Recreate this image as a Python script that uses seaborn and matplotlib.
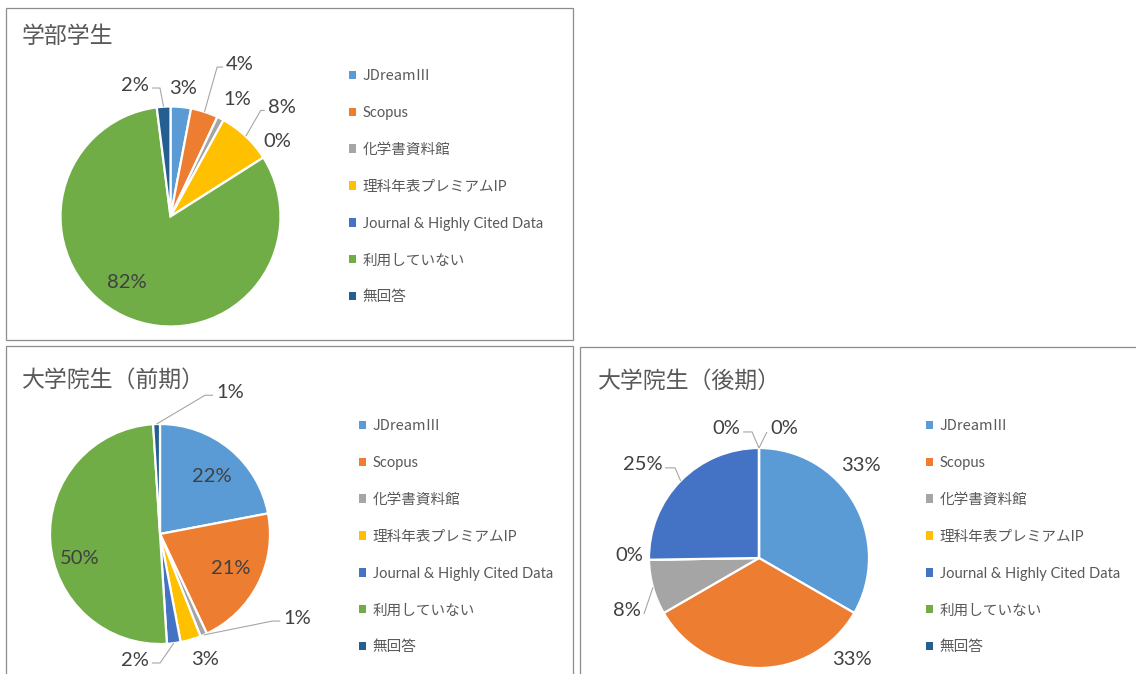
import numpy as np
import pandas as pd
import matplotlib
matplotlib.use("Agg")
import matplotlib.pyplot as plt
import seaborn as sns
from matplotlib.patches import Patch, Rectangle

# ---------------- data ----------------
categories = ["JDreamⅢ", "Scopus", "化学書資料館", "理科年表プレミアムIP",
              "Journal & Highly Cited Data", "利用していない", "無回答"]
undergrad = [3, 4, 1, 8, 0, 82, 2]
master = [22, 21, 1, 3, 2, 50, 1]
doctor = [33, 33, 8, 0, 25, 0, 0]
titles = ["学部学生", "大学院生（前期）", "大学院生（後期）"]

# ---------------- style ----------------
sns.set_theme(style="white")
plt.rcParams["font.family"] = ["Lato", "Noto Sans CJK JP", "DejaVu Sans"]
palette = sns.color_palette(["#5B9BD5", "#ED7D31", "#A5A5A5", "#FFC000",
                             "#4472C4", "#70AD47", "#255E91"])

W, H = 1136, 674
R_PX = 110.0
PX = 1.0 / R_PX  # one pixel in pie data units

# label placement per wedge: (radius factor, angle shift deg clockwise, mode, elbow px)
style_1 = [(1.17, 0.0, "c", 0), (1.44, 1.4, "R", 6), (1.22, 2.7, "c", 0),
           (1.29, -1.6, "R", 4), (1.19, -2.7, "c", 0), (0.72, 8.0, "c", 0),
           (1.18, -4.6, "L", 8)]
style_2 = [(0.70, 2.2, "c", 0), (0.72, -1.0, "c", 0), (1.35, -30.7, "R", 8),
           (1.21, -3.8, "c", 0), (1.175, 10.7, "L", 8), (0.76, -13.2, "c", 0),
           (1.35, 22.7, "R", 8)]
style_3 = [(1.25, -12.4, "c", 0), (1.25, -42.4, "c", 0), (1.163, -10.5, "L", 0),
           (1.18, 1.8, "c", 0), (1.183, -0.7, "L", 10), (1.155, -7.2, "L", 9),
           (1.148, 3.6, "R", 0)]

panels = [
    dict(values=undergrad, title=titles[0], center=(170.5, 216.5), style=style_1,
         title_xy=(22, 36), legend_xy=(349, 69), box=(6, 8, 573, 340)),
    dict(values=master, title=titles[1], center=(160, 534), style=style_2,
         title_xy=(22, 380), legend_xy=(359, 419), box=(6, 346, 573, 690)),
    dict(values=doctor, title=titles[2], center=(759, 558), style=style_3,
         title_xy=(598, 381), legend_xy=(926, 419), box=(580, 347, 1150, 690)),
]

fig = plt.figure(figsize=(W / 100, H / 100), dpi=100)
fig.patch.set_facecolor("white")

label_color = "#404040"
leader_color = "#A6A6A6"

for p in panels:
    # panel frame
    x0, y0, x1, y1 = p["box"]
    fig.patches.append(Rectangle((x0 / W, 1 - y1 / H), (x1 - x0) / W, (y1 - y0) / H,
                                 transform=fig.transFigure, fill=False,
                                 edgecolor="#8C8C8C", linewidth=0.9, zorder=0))
    # title
    fig.text(p["title_xy"][0] / W, 1 - p["title_xy"][1] / H, p["title"],
             fontsize=16.5, color="#595959", ha="left", va="center")

    cx, cy = p["center"]
    ax = fig.add_axes([(cx - R_PX) / W, 1 - (cy + R_PX) / H, 2 * R_PX / W, 2 * R_PX / H])
    vals = p["values"]
    wedges, _ = ax.pie(vals, colors=palette, startangle=90, counterclock=False,
                       wedgeprops=dict(edgecolor="white", linewidth=1.6))
    ax.set_xlim(-1, 1)
    ax.set_ylim(-1, 1)
    ax.set_aspect("equal")
    ax.axis("off")

    for w, v, (k, dphi, mode, elbow) in zip(wedges, vals, p["style"]):
        mid = 0.5 * (w.theta1 + w.theta2)          # math degrees
        lab = np.deg2rad(mid - dphi)
        px_, py_ = k * np.cos(lab), k * np.sin(lab)
        txt = f"{v}%"
        if mode == "c":
            ax.text(px_, py_, txt, ha="center", va="center", fontsize=14.5,
                    color=label_color)
        else:
            side = 1 if mode == "R" else -1
            ex, ey = np.cos(np.deg2rad(mid)), np.sin(np.deg2rad(mid))
            bx = px_ - side * elbow * PX
            ax.plot([ex, bx, px_], [ey, py_, py_], color=leader_color, lw=0.8,
                    clip_on=False, solid_capstyle="butt")
            ax.text(px_ + side * 3 * PX, py_ + 3 * PX, txt,
                    ha="left" if side == 1 else "right", va="center",
                    fontsize=14.5, color=label_color)

    handles = [Patch(facecolor=c, edgecolor="none") for c in palette]
    lx, ly = p["legend_xy"]
    leg = fig.legend(handles, categories, loc="upper left",
                     bbox_to_anchor=(lx / W, 1 - ly / H), bbox_transform=fig.transFigure,
                     frameon=False, fontsize=10.5, labelcolor="#595959",
                     handlelength=0.5, handleheight=0.5, handletextpad=0.45,
                     labelspacing=1.57, borderpad=0, borderaxespad=0)
    # the Roman numeral glyph as drawn by the CJK family
    leg.get_texts()[0].set_fontfamily(["Noto Sans CJK JP", "DejaVu Sans"])

fig.savefig("out.png", dpi=100, facecolor="white")
